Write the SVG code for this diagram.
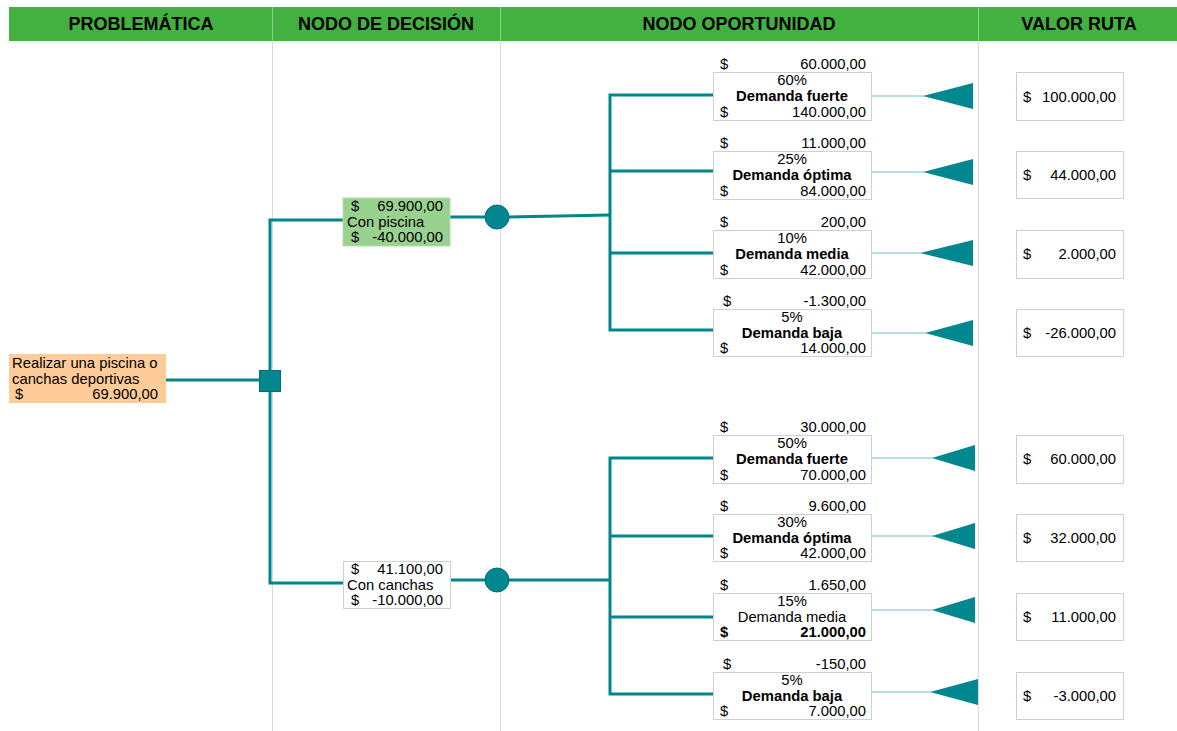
<svg xmlns="http://www.w3.org/2000/svg" width="1177" height="731" viewBox="0 0 1177 731">
  <style>
    text { font-family: "Liberation Sans", Arial, sans-serif; fill: #000; }
    .hdr { font-size: 18px; font-weight: bold; text-anchor: middle; }
    .t { font-size: 14.8px; }
    .b { font-weight: bold; }
    .m { text-anchor: middle; }
    .r { text-anchor: end; }
    .v { font-size: 14.8px; }
    .grid { stroke: #D9D9D9; stroke-width: 1; }
    .box { fill: #FFFFFF; stroke: #D0D0D0; stroke-width: 1; }
    .edge { stroke: #00868D; stroke-width: 3; fill: none; }
    .thin { stroke: #6CC0C4; stroke-width: 1; fill: none; }
    .tri { fill: #00878F; }
  </style>

  <rect width="1177" height="731" fill="#FFFFFF"/>

  <!-- column grid -->
  <g id="grid">
    <line class="grid" x1="272.5" y1="7" x2="272.5" y2="731"/>
    <line class="grid" x1="500.5" y1="7" x2="500.5" y2="731"/>
    <line class="grid" x1="978.5" y1="7" x2="978.5" y2="731"/>
  </g>

  <!-- header bar -->
  <g id="header">
    <rect x="9" y="7" width="1168" height="34" fill="#43B13F"/>
    <line x1="272.5" y1="7" x2="272.5" y2="41" stroke="#8FD08B" stroke-width="1"/>
    <line x1="500.5" y1="7" x2="500.5" y2="41" stroke="#8FD08B" stroke-width="1"/>
    <line x1="978.5" y1="7" x2="978.5" y2="41" stroke="#8FD08B" stroke-width="1"/>
    <text class="hdr" x="141" y="30">PROBLEMÁTICA</text>
    <text class="hdr" x="386" y="30">NODO DE DECISIÓN</text>
    <text class="hdr" x="739" y="30">NODO OPORTUNIDAD</text>
    <text class="hdr" x="1079" y="30">VALOR RUTA</text>
  </g>

  <!-- connectors -->
  <g id="connectors">
    <line class="edge" x1="166" y1="380" x2="260" y2="380"/>
    <polyline class="edge" points="343,220 270,220 270,583 343,583"/>
    <line class="edge" x1="450" y1="217" x2="486" y2="217"/>
    <line class="edge" x1="450" y1="580" x2="486" y2="580"/>
    <polyline class="edge" points="508,217 610,215"/>
    <line class="edge" x1="508" y1="580" x2="610" y2="580"/>
    <!-- upper chance branches -->
    <polyline class="edge" points="713,95 610,95 610,330 713,330"/>
    <line class="edge" x1="610" y1="171" x2="713" y2="171"/>
    <line class="edge" x1="610" y1="253" x2="713" y2="253"/>
    <!-- lower chance branches -->
    <polyline class="edge" points="713,458 610,458 610,694 713,694"/>
    <line class="edge" x1="610" y1="536" x2="713" y2="536"/>
    <line class="edge" x1="610" y1="617" x2="713" y2="617"/>
    <!-- leads to terminal nodes -->
    <line class="thin" x1="871" y1="96" x2="924" y2="96"/>
    <line class="thin" x1="871" y1="172" x2="924" y2="172"/>
    <line class="thin" x1="871" y1="253" x2="921" y2="253"/>
    <line class="thin" x1="871" y1="333" x2="926" y2="333"/>
    <line class="thin" x1="871" y1="458" x2="933" y2="458"/>
    <line class="thin" x1="871" y1="536" x2="933" y2="536"/>
    <line class="thin" x1="871" y1="610" x2="933" y2="610"/>
    <line class="thin" x1="871" y1="692" x2="931" y2="692"/>
  </g>

  <!-- root problem -->
  <g id="problema">
    <rect x="9" y="354" width="157" height="49" fill="#FFCC99"/>
    <text class="t" x="12" y="368">Realizar una piscina o</text>
    <text class="t" x="12" y="384">canchas deportivas</text>
    <text class="t" x="15" y="399">$</text>
    <text class="t r" x="158" y="399">69.900,00</text>
  </g>

  <!-- decision node -->
  <g id="decision">
    <rect x="259.5" y="370.5" width="21" height="21" fill="#00878F" stroke="#006E74" stroke-width="1"/>
  </g>

  <!-- decision alternatives -->
  <g id="alt-piscina">
    <rect x="343" y="198" width="107" height="48" fill="#99D18F" stroke="#B5DDAE" stroke-width="1"/>
    <text class="t" x="351" y="211">$</text>
    <text class="t r" x="443" y="211">69.900,00</text>
    <text class="t" x="347" y="227">Con piscina</text>
    <text class="t" x="351" y="242">$</text>
    <text class="t r" x="443" y="242">-40.000,00</text>
  </g>
  <g id="alt-canchas">
    <rect class="box" x="343.5" y="561.5" width="107" height="47"/>
    <text class="t" x="351" y="574">$</text>
    <text class="t r" x="443" y="574">41.100,00</text>
    <text class="t" x="347" y="590">Con canchas</text>
    <text class="t" x="351" y="605">$</text>
    <text class="t r" x="443" y="605">-10.000,00</text>
  </g>

  <!-- chance nodes -->
  <g id="chance-piscina">
    <circle cx="497" cy="217" r="12" fill="#00878F" stroke="#006E74" stroke-width="1"/>
  </g>
  <g id="chance-canchas">
    <circle cx="497" cy="580" r="12" fill="#00878F" stroke="#006E74" stroke-width="1"/>
  </g>

  <!-- outcomes: piscina -->
  <g id="p-fuerte">
    <text class="t" x="720" y="69">$</text>
    <text class="t r" x="866" y="69">60.000,00</text>
    <rect class="box" x="713.5" y="72.5" width="158" height="48"/>
    <text class="t m" x="792" y="85">60%</text>
    <text class="t m b" x="792" y="101">Demanda fuerte</text>
    <text class="t" x="720" y="117">$</text>
    <text class="t r" x="866" y="117">140.000,00</text>
  </g>
  <g id="p-optima">
    <text class="t" x="720" y="148">$</text>
    <text class="t r" x="866" y="148">11.000,00</text>
    <rect class="box" x="713.5" y="151.5" width="158" height="48"/>
    <text class="t m" x="792" y="164">25%</text>
    <text class="t m b" x="792" y="180">Demanda óptima</text>
    <text class="t" x="720" y="196">$</text>
    <text class="t r" x="866" y="196">84.000,00</text>
  </g>
  <g id="p-media">
    <text class="t" x="720" y="227">$</text>
    <text class="t r" x="866" y="227">200,00</text>
    <rect class="box" x="713.5" y="230.5" width="158" height="48"/>
    <text class="t m" x="792" y="243">10%</text>
    <text class="t m b" x="792" y="259">Demanda media</text>
    <text class="t" x="720" y="275">$</text>
    <text class="t r" x="866" y="275">42.000,00</text>
  </g>
  <g id="p-baja">
    <text class="t" x="723" y="306">$</text>
    <text class="t r" x="866" y="306">-1.300,00</text>
    <rect class="box" x="713.5" y="309.5" width="158" height="47"/>
    <text class="t m" x="792" y="322">5%</text>
    <text class="t m b" x="792" y="338">Demanda baja</text>
    <text class="t" x="720" y="353">$</text>
    <text class="t r" x="866" y="353">14.000,00</text>
  </g>

  <!-- outcomes: canchas -->
  <g id="c-fuerte">
    <text class="t" x="720" y="432">$</text>
    <text class="t r" x="866" y="432">30.000,00</text>
    <rect class="box" x="713.5" y="435.5" width="158" height="48"/>
    <text class="t m" x="792" y="448">50%</text>
    <text class="t m b" x="792" y="464">Demanda fuerte</text>
    <text class="t" x="720" y="480">$</text>
    <text class="t r" x="866" y="480">70.000,00</text>
  </g>
  <g id="c-optima">
    <text class="t" x="720" y="511">$</text>
    <text class="t r" x="866" y="511">9.600,00</text>
    <rect class="box" x="713.5" y="514.5" width="158" height="47"/>
    <text class="t m" x="792" y="527">30%</text>
    <text class="t m b" x="792" y="543">Demanda óptima</text>
    <text class="t" x="720" y="558">$</text>
    <text class="t r" x="866" y="558">42.000,00</text>
  </g>
  <g id="c-media">
    <text class="t" x="720" y="590">$</text>
    <text class="t r" x="866" y="590">1.650,00</text>
    <rect class="box" x="713.5" y="593.5" width="158" height="47"/>
    <text class="t m" x="792" y="606">15%</text>
    <text class="t m" x="792" y="622">Demanda media</text>
    <text class="t b" x="720" y="637">$</text>
    <text class="t r b" x="866" y="637">21.000,00</text>
  </g>
  <g id="c-baja">
    <text class="t" x="723" y="669">$</text>
    <text class="t r" x="866" y="669">-150,00</text>
    <rect class="box" x="713.5" y="672.5" width="158" height="47"/>
    <text class="t m" x="792" y="685">5%</text>
    <text class="t m b" x="792" y="701">Demanda baja</text>
    <text class="t" x="720" y="716">$</text>
    <text class="t r" x="866" y="716">7.000,00</text>
  </g>

  <!-- terminal nodes -->
  <g id="terminals">
    <polygon class="tri" points="923,96 973,83 973,109"/>
    <polygon class="tri" points="923,172 973,159 973,185"/>
    <polygon class="tri" points="920,253 973,240 973,266"/>
    <polygon class="tri" points="925,333 973,320 973,346"/>
    <polygon class="tri" points="932,458 975,445 975,471"/>
    <polygon class="tri" points="932,536 975,523 975,549"/>
    <polygon class="tri" points="932,610 975,597 975,623"/>
    <polygon class="tri" points="930,692 978,679 978,705"/>
  </g>

  <!-- route values -->
  <g id="v1"><rect class="box" x="1016.5" y="72.5" width="107" height="48"/><text class="v" x="1023" y="102">$</text><text class="v r" x="1116" y="102">100.000,00</text></g>
  <g id="v2"><rect class="box" x="1016.5" y="151.5" width="107" height="47"/><text class="v" x="1023" y="180">$</text><text class="v r" x="1116" y="180">44.000,00</text></g>
  <g id="v3"><rect class="box" x="1016.5" y="230.5" width="107" height="48"/><text class="v" x="1023" y="259">$</text><text class="v r" x="1116" y="259">2.000,00</text></g>
  <g id="v4"><rect class="box" x="1016.5" y="309.5" width="107" height="47"/><text class="v" x="1023" y="338">$</text><text class="v r" x="1116" y="338">-26.000,00</text></g>
  <g id="v5"><rect class="box" x="1016.5" y="435.5" width="107" height="48"/><text class="v" x="1023" y="464">$</text><text class="v r" x="1116" y="464">60.000,00</text></g>
  <g id="v6"><rect class="box" x="1016.5" y="514.5" width="107" height="47"/><text class="v" x="1023" y="543">$</text><text class="v r" x="1116" y="543">32.000,00</text></g>
  <g id="v7"><rect class="box" x="1016.5" y="593.5" width="107" height="47"/><text class="v" x="1023" y="622">$</text><text class="v r" x="1116" y="622">11.000,00</text></g>
  <g id="v8"><rect class="box" x="1016.5" y="672.5" width="107" height="47"/><text class="v" x="1023" y="701">$</text><text class="v r" x="1116" y="701">-3.000,00</text></g>
</svg>
